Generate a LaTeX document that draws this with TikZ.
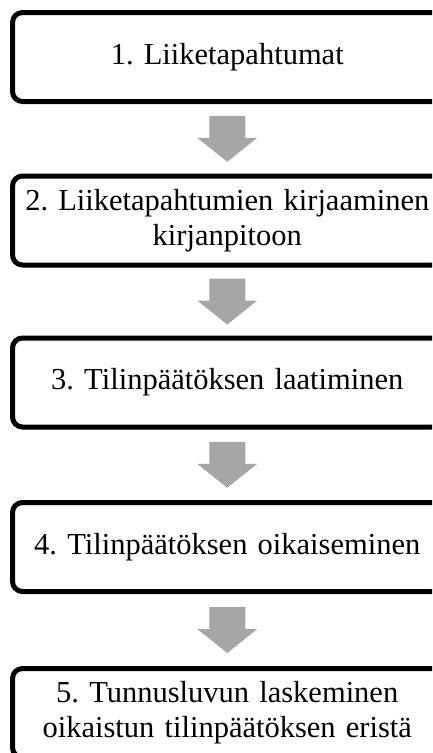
\documentclass[tikz,border=0pt]{standalone}
\usepackage{fontspec}
\setmainfont{Liberation Serif}
\usetikzlibrary{calc}
\definecolor{arrowgray}{HTML}{A6A6A6}
\newcommand\blkarrow[2]{%
  \fill[arrowgray, shift={($(#1.south)!0.5!(#2.north)$)}]
    (-18,-23) -- (18,-23) -- (18,-1) -- (30,-1) -- (0,23) -- (-30,-1) -- (-18,-1) -- cycle;}
\begin{document}
\frenchspacing
\begin{tikzpicture}[x=1pt,y=-1pt,
  stepbox/.style={draw=black, line width=5pt, rounded corners=10pt,
    minimum width=429.5pt, minimum height=89pt, inner sep=0pt,
    align=center, text width=425pt, font=\fontsize{30.5}{35}\selectfont}]
\useasboundingbox (0,0) rectangle (432,753);
\clip (0,0) rectangle (432,753);
\node[stepbox] (b1) at (227.25,57) {1. Liiketapahtumat};
\node[stepbox] (b2) at (227.25,220.5) {2. Liiketapahtumien kirjaaminen\\kirjanpitoon};
\node[stepbox] (b3) at (227.25,382.5) {3. Tilinpäätöksen laatiminen};
\node[stepbox] (b4) at (227.25,547) {4. Tilinpäätöksen oikaiseminen};
\node[stepbox] (b5) at (227.25,713) {5. Tunnusluvun laskeminen\\oikaistun tilinpäätöksen eristä};
\blkarrow{b1}{b2}
\blkarrow{b2}{b3}
\blkarrow{b3}{b4}
\blkarrow{b4}{b5}
\end{tikzpicture}
\end{document}
